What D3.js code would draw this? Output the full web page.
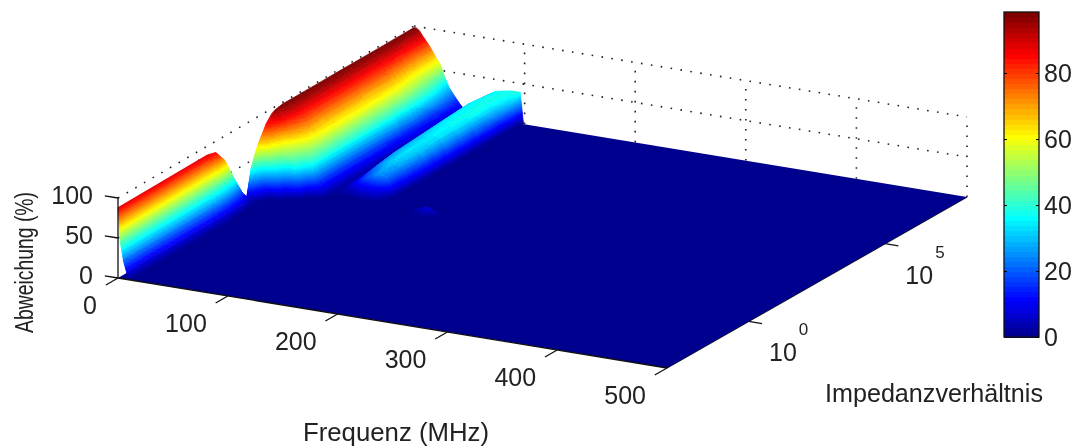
<!DOCTYPE html>
<meta charset="utf-8">
<style>
  body { margin: 0; background: #fff; }
  svg { display: block; filter: blur(0.45px); }
  text { font-family: "Liberation Sans", Arial, sans-serif; font-size: 25px; fill: #222; }
  .frame { fill: none; stroke: #111; stroke-width: 1.3px; }
  .grid { fill: none; stroke: #222; stroke-width: 1.6px; stroke-dasharray: 1.6 8.4; }
</style>
<body>
  <script src="https://d3js.org/d3.v7.min.js"></script>
  <script>
    // surface: columns are MHz, rows are log10(impedance ratio)
    var freqs = [0, 2, 5, 8, 12, 16, 20, 24, 28, 32, 36, 42, 50, 60, 68, 74, 84, 90, 93, 96, 99, 125, 141, 155, 500];
    var logRatios = [-3, 0.3, 0.63, 0.96, 1.29, 1.62, 1.79, 1.95, 2.12, 2.28, 2.5, 2.72, 2.83, 3.11, 3.27, 3.82, 4.48, 5.25, 6.35, 7.23, 8];
    var deviation = [
      [88, 46, 22, 8, 1, 0, 0, 0, 0, 0, 0, 0, 0, 0, 0, 0, 0, 0, 0, 0, 0, 0, 0, 0, 0],
      [89, 46, 22, 8, 1, 0, 0, 0, 0, 0, 0, 0, 0, 0, 0, 0, 0, 0, 0, 0, 0, 0, 0, 0, 0],
      [86, 44, 20, 7, 1, 0, 0, 0, 0, 0, 0, 0, 0, 0, 0, 0, 0, 0, 0, 0, 0, 0, 0, 0, 0],
      [70, 38, 16, 5, 0, 0, 0, 0, 0, 0, 0, 0, 0, 0, 0, 0, 0, 0, 0, 0, 0, 0, 0, 0, 0],
      [42, 25, 10, 3, 0, 0, 0, 0, 0, 0, 0, 0, 0, 0, 0, 0, 0, 0, 0, 0, 0, 0, 0, 0, 0],
      [16, 10, 5, 2, 0, 0, 0, 0, 0, 0, 0, 0, 0, 0, 0, 0, 0, 0, 0, 0, 0, 0, 0, 0, 0],
      [8, 4, 2, 0, 0, 0, 0, 0, 0, 0, 0, 0, 0, 0, 0, 0, 0, 0, 0, 0, 0, 0, 0, 0, 0],
      [40, 22, 8, 2, 0, 0, 0, 0, 0, 0, 0, 0, 0, 0, 0, 0, 0, 0, 0, 0, 0, 0, 0, 0, 0],
      [58, 44, 26, 12, 4, 0, 0, 0, 0, 0, 0, 0, 0, 0, 0, 0, 0, 0, 0, 0, 0, 0, 0, 0, 0],
      [70, 66, 60, 52, 41, 30, 15, 4, 1, 0, 0, 0, 0, 0, 0, 0, 0, 0, 0, 0, 0, 0, 0, 0, 0],
      [85, 83, 76, 66, 55, 50, 46, 42, 38, 24, 4, 0, 0, 0, 0, 0, 0, 0, 0, 0, 0, 0, 0, 0, 0],
      [94, 92, 88, 78, 66, 60, 54, 49, 45, 40, 36, 15, 0, 0, 0, 0, 0, 0, 0, 0, 0, 0, 9, 0, 0],
      [96, 95, 91, 84, 74, 66, 60, 54, 49, 44, 38, 16, 1, 0, 0, 0, 0, 0, 0, 0, 0, 0, 0, 0, 0],
      [98, 97, 94, 90, 82, 74, 68, 62, 55, 47, 38, 16, 2, 5, 8, 10, 12, 8, 5, 2, 0, 0, 0, 0, 0],
      [98, 98, 95, 91, 84, 76, 69, 63, 56, 47, 38, 16, 2, 8, 16, 20, 27, 22, 15, 6, 0, 0, 0, 0, 0],
      [98, 98, 95, 91, 84, 77, 70, 64, 58, 48, 38, 16, 2, 12, 22, 27, 33, 28, 20, 10, 0, 0, 0, 0, 0],
      [98, 98, 95, 91, 84, 77, 70, 64, 58, 48, 38, 16, 2, 14, 26, 30, 35, 31, 24, 13, 0, 0, 0, 0, 0],
      [98, 98, 95, 91, 84, 77, 70, 64, 58, 48, 38, 16, 2, 16, 28, 32, 36, 33, 26, 15, 0, 0, 0, 0, 0],
      [98, 98, 95, 91, 84, 76, 69, 63, 56, 47, 36, 15, 2, 18, 31, 35, 38, 35, 28, 17, 0, 0, 0, 0, 0],
      [98, 98, 95, 90, 82, 72, 64, 57, 50, 42, 31, 14, 2, 20, 33, 37, 39, 36, 29, 19, 0, 0, 0, 0, 0],
      [98, 98, 95, 89, 82, 74, 65, 57, 42, 30, 22, 11, 0, 18, 30, 35, 38, 39, 39, 39, 0, 0, 0, 0, 0]
    ];

    var freqTicks = [0, 100, 200, 300, 400, 500];
    var ratioTicks = [0, 5];
    var devTicks = [0, 50, 100];
    var barTicks = [0, 20, 40, 60, 80];
    var barLevels = d3.range(64);

    var svg = d3.select("body").append("svg").attr("width", 1075).attr("height", 448);

    // screen corners of the floor, MATLAB's view is flattened onto these
    var cA = [118, 278], cB = [667, 368], cC = [967, 197], cD = [414, 106];
    var uScale = d3.scaleLinear().domain([0, 500]).range([0, 1]);
    var vScale = d3.scaleLinear().domain([-3, 8]).range([0, 1]);
    var hScale = d3.scaleLinear().domain([0, 100]).range([0, 80]);

    function project(f, l, z) {
      var u = uScale(f), v = vScale(l);
      var px = cA[0] * (1 - u) * (1 - v) + cB[0] * u * (1 - v) + cC[0] * u * v + cD[0] * (1 - u) * v;
      var py = cA[1] * (1 - u) * (1 - v) + cB[1] * u * (1 - v) + cC[1] * u * v + cD[1] * (1 - u) * v;
      return [px, py - hScale(z)];
    }

    // jet colormap, 64 steps
    var clim = [0, 98.5];
    var jet = d3.scaleLinear()
      .domain([0, 0.11, 0.365, 0.62, 0.875, 1])
      .range(["#00008f", "#0000ff", "#00ffff", "#ffff00", "#ff0000", "#800000"]);
    var color = d3.scaleQuantize().domain(clim).range(barLevels.map(function (i) { return jet(i / 63); }));

    var line = d3.line();

    // dotted back walls
    var gridLines = [];
    [50, 100].forEach(function (z) {
      gridLines.push([project(0, -3, z), project(0, 8, z)]);
      gridLines.push([project(0, 8, z), project(500, 8, z)]);
    });
    freqTicks.forEach(function (f) {
      if (f > 0) gridLines.push([project(f, 8, 0), project(f, 8, 100)]);
    });
    ratioTicks.forEach(function (l) {
      gridLines.push([project(0, l, 0), project(0, l, 100)]);
    });
    svg.append("g").selectAll("path").data(gridLines).join("path")
      .attr("class", "grid").attr("d", line);

    // right floor edge sits under the surface
    svg.append("path").attr("class", "frame").attr("d", line([project(500, -3, 0), project(500, 8, 0)]));

    // flat underlay so no hairlines show through the facets
    svg.append("path")
      .attr("d", line([project(freqs[0], -3, 0), project(500, -3, 0), project(500, 8, 0), project(freqs[0], 8, 0)]) + "Z")
      .attr("fill", color(0));

    // facets far to near, split up so the colour runs smooth like shading interp
    var quads = [];
    function lerp(a, b, s) { return a + (b - a) * s; }
    for (var r = logRatios.length - 2; r >= 0; r--) {
      for (var c = 0; c < freqs.length - 1; c++) {
        var z00 = deviation[r][c], z01 = deviation[r][c + 1], z10 = deviation[r + 1][c], z11 = deviation[r + 1][c + 1];
        if (z00 + z01 + z10 + z11 === 0) continue;
        var nf = Math.max(1, Math.ceil(Math.max(Math.abs(z01 - z00), Math.abs(z11 - z10)) / 1.2));
        var nl = Math.max(1, Math.ceil(Math.max(Math.abs(z10 - z00), Math.abs(z11 - z01)) / 1.2));
        for (var j = nl - 1; j >= 0; j--) {
          for (var i = 0; i < nf; i++) {
            var pts = [[i, j], [i + 1, j], [i + 1, j + 1], [i, j + 1]].map(function (p) {
              var sf = p[0] / nf, sl = p[1] / nl;
              return {
                f: lerp(freqs[c], freqs[c + 1], sf),
                l: lerp(logRatios[r], logRatios[r + 1], sl),
                z: lerp(lerp(z00, z01, sf), lerp(z10, z11, sf), sl)
              };
            });
            quads.push(pts);
          }
        }
      }
    }
    svg.append("g").selectAll("path").data(quads).join("path")
      .attr("d", function (q) { return line(q.map(function (p) { return project(p.f, p.l, p.z); })) + "Z"; })
      .attr("fill", function (q) { return color(d3.mean(q, function (p) { return p.z; })); })
      .attr("stroke", function (q) { return color(d3.mean(q, function (p) { return p.z; })); })
      .attr("stroke-width", 0.7);

    // axes
    var axes = svg.append("g");
    axes.append("path").attr("class", "frame").attr("d", line([project(0, -3, 0), project(500, -3, 0)]));
    axes.append("path").attr("class", "frame").attr("d", line([project(0, -3, 0), project(0, -3, 100)]));

    freqTicks.forEach(function (f) {
      var p = project(f, -3, 0);
      axes.append("path").attr("class", "frame").attr("d", line([p, project(f, -3.45, 0)]));
      axes.append("text").attr("x", p[0] - 21).attr("y", p[1] + 36).attr("text-anchor", "end").text(f);
    });
    devTicks.forEach(function (z) {
      var p = project(0, -3, z);
      axes.append("path").attr("class", "frame").attr("d", line([p, project(-12, -3, z)]));
      axes.append("text").attr("x", p[0] - 25).attr("y", p[1] + 6).attr("text-anchor", "end").text(z);
    });
    ratioTicks.forEach(function (l) {
      var p = project(500, l, 0);
      axes.append("path").attr("class", "frame").attr("d", line([p, project(512, l, 0)]));
      axes.append("text").attr("x", p[0] + 48).attr("y", p[1] + 40).attr("text-anchor", "end").text("10");
      axes.append("text").attr("x", p[0] + 50).attr("y", p[1] + 14).style("font-size", "17px").text(l);
    });

    axes.append("text").attr("x", 303).attr("y", 441)
      .attr("textLength", 186).attr("lengthAdjust", "spacingAndGlyphs").text("Frequenz (MHz)");
    axes.append("text").attr("x", 825).attr("y", 402)
      .attr("textLength", 218).attr("lengthAdjust", "spacingAndGlyphs").text("Impedanzverhältnis");
    axes.append("text").attr("transform", "translate(33,333) rotate(-90)")
      .attr("textLength", 141).attr("lengthAdjust", "spacingAndGlyphs").text("Abweichung (%)");

    // colorbar
    var barY = d3.scaleLinear().domain(clim).range([337, 12]);
    var bar = svg.append("g");
    var barBand = d3.scaleBand().domain(barLevels).range([337, 12]);
    bar.selectAll("rect").data(barLevels).join("rect")
      .attr("x", 1004).attr("width", 35)
      .attr("y", function (d) { return barBand(d); })
      .attr("height", barBand.bandwidth() + 1)
      .attr("shape-rendering", "crispEdges")
      .attr("fill", function (d) { return jet(d / 63); });
    bar.append("rect").attr("class", "frame").attr("x", 1004).attr("y", 12).attr("width", 35).attr("height", 325);

    var barLeft = bar.append("g").attr("transform", "translate(1004,0)")
      .call(d3.axisRight(barY).tickValues(barTicks.slice(1)).tickSize(3).tickFormat(""));
    barLeft.select(".domain").remove();
    var barRight = bar.append("g").attr("transform", "translate(1039,0)")
      .call(d3.axisRight(barY).tickValues(barTicks).tickSizeInner(-3).tickSizeOuter(0).tickPadding(5));
    barRight.select(".domain").remove();
    barRight.selectAll("text").attr("style", null).attr("font-size", null).attr("font-family", null);
  </script>
</body>
